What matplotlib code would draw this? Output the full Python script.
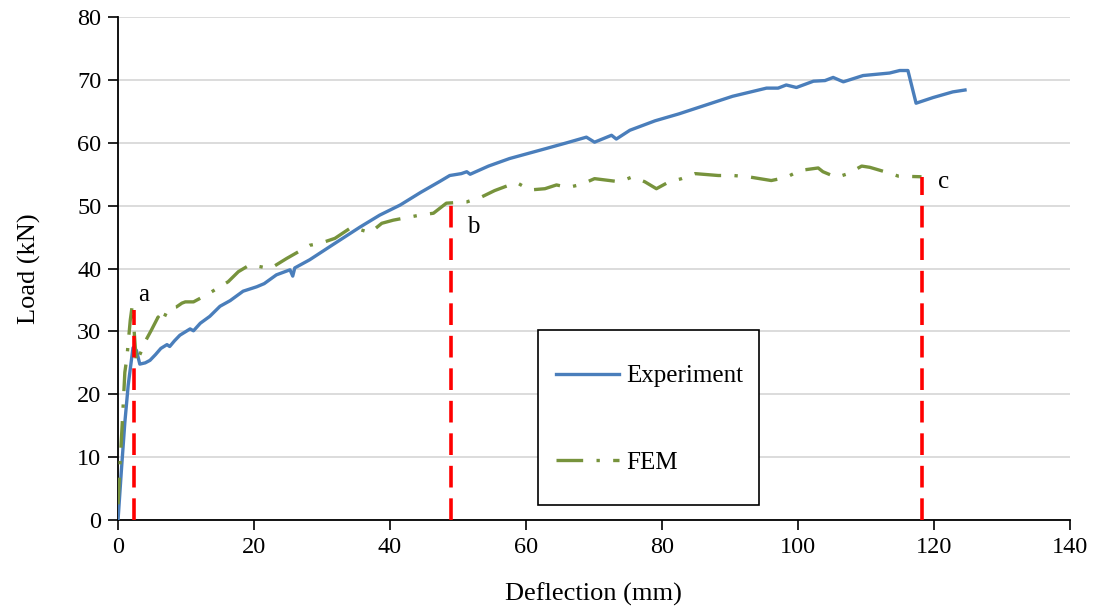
import matplotlib
matplotlib.use("Agg")
import matplotlib.pyplot as plt
from matplotlib.patches import Rectangle

plt.rcParams["font.family"] = ["Liberation Serif", "DejaVu Serif"]

# measured load-deflection response
exp_defl = [0, 0.5, 1.0, 1.5, 2.2, 2.7, 3.2, 4.0, 4.7, 5.5, 6.3, 7.2, 7.6, 8.3, 9.1,
            10.0, 10.6, 11.1, 12.1, 13.5, 15.0, 16.5, 18.4, 20.4, 21.5, 23.3, 25.3,
            25.7, 26.0, 28.2, 31.6, 35.6, 38.5, 41.5, 44.5, 47.4, 48.8, 50.5, 51.3,
            51.8, 54.5, 57.6, 60.3, 63.0, 66.0, 68.9, 69.5, 70.1, 72.6, 73.3, 75.3,
            79.0, 82.5, 85.6, 90.4, 95.4, 97.1, 98.3, 99.8, 102.3, 104.0, 105.2,
            106.7, 109.6, 113.5, 115.0, 116.2, 117.4, 119.9, 122.8, 124.6]
exp_load = [0, 8.0, 15.5, 21.5, 27.4, 27.0, 24.8, 25.0, 25.4, 26.3, 27.3, 27.9, 27.6,
            28.5, 29.4, 30.0, 30.4, 30.1, 31.3, 32.4, 34.0, 34.9, 36.4, 37.1, 37.6,
            39.0, 39.8, 38.8, 40.1, 41.4, 43.8, 46.6, 48.5, 50.1, 52.1, 53.9, 54.8,
            55.1, 55.4, 55.0, 56.3, 57.5, 58.3, 59.1, 60.0, 60.9, 60.5, 60.1, 61.2,
            60.6, 62.0, 63.5, 64.6, 65.7, 67.4, 68.7, 68.7, 69.2, 68.8, 69.8, 69.9,
            70.4, 69.7, 70.7, 71.1, 71.5, 71.5, 66.3, 67.2, 68.1, 68.4]

# finite element prediction
fem_defl = [0, 0.3, 0.7, 1.0, 1.3, 1.8, 2.1, 2.7, 3.4, 4.0, 4.9, 5.9, 6.4, 7.4, 8.6,
            9.4, 9.9, 11.1, 13.0, 16.2, 17.7, 19.4, 22.4, 24.8, 28.2, 29.7, 31.9,
            34.4, 37.1, 38.8, 40.5, 44.4, 46.4, 48.3, 51.3, 53.5, 55.4, 58.6, 60.6,
            62.8, 64.5, 66.2, 68.2, 70.1, 73.8, 75.7, 77.5, 79.2, 80.9, 82.9, 84.9,
            88.3, 90.5, 92.7, 96.1, 98.3, 100.3, 103.0, 103.7, 105.7, 107.4, 109.4,
            110.6, 112.8, 114.8, 118.2]
fem_load = [2.5, 9.0, 17.0, 23.5, 25.8, 31.8, 34.2, 25.0, 26.8, 28.4, 30.2, 32.3,
            31.3, 33.7, 33.9, 34.5, 34.7, 34.7, 35.8, 37.9, 39.5, 40.6, 40.0, 41.6,
            43.7, 44.0, 44.8, 46.6, 45.7, 47.2, 47.7, 48.5, 48.8, 50.4, 50.6, 51.4,
            52.4, 53.7, 52.5, 52.7, 53.3, 52.9, 53.4, 54.3, 53.8, 54.6, 53.8, 52.7,
            53.7, 54.3, 55.1, 54.8, 54.8, 54.6, 54.0, 54.5, 55.6, 56.0, 55.4, 54.5,
            55.1, 56.3, 56.1, 55.4, 54.7, 54.6]

# characteristic stages marked on the FEM curve
stage_labels = ["a", "b", "c"]
stage_defl = [2.3, 49.0, 118.2]
stage_load = [33.4, 50.4, 54.6]
label_offsets = [(7, 11), (16, -17), (16, -4)]  # points, label relative to line top

fig, ax = plt.subplots(figsize=(10.96, 6.1), dpi=100)
fig.subplots_adjust(left=0.1077, right=0.976, bottom=0.1475, top=0.972)

ax.plot(exp_defl, exp_load, color="#4a7ebb", lw=2.4, label="Experiment", zorder=3)
ax.plot(fem_defl, fem_load, color="#77933c", lw=2.4, dashes=(8, 4, 1, 4),
        label="FEM", zorder=3)

for lab, xd, yl, off in zip(stage_labels, stage_defl, stage_load, label_offsets):
    ax.vlines(xd, 0, yl, colors="#ff0000", lw=2.6, linestyles=(0, (6, 3)), zorder=4)
    ax.annotate(lab, (xd, yl), xytext=off, textcoords="offset points",
                fontsize=18, ha="center", va="center")

ax.set_xlim(0, 140)
ax.set_ylim(0, 80)
ax.set_xticks(range(0, 141, 20))
ax.set_yticks(range(0, 81, 10))
ax.tick_params(direction="out", length=7, width=1.2, labelsize=17.5, pad=5)
ax.grid(axis="y", color="#d9d9d9", lw=1.3)
ax.set_axisbelow(True)
for side in ["top", "right"]:
    ax.spines[side].set_visible(False)
for side in ["left", "bottom"]:
    ax.spines[side].set_linewidth(1.3)

ax.set_xlabel("Deflection (mm)", fontsize=19, labelpad=18)
ax.set_ylabel("Load (kN)", fontsize=19, labelpad=26)

# legend frame drawn separately so the padding can differ on each side
ax.add_patch(Rectangle((0.4412, 0.0298), 0.2321, 0.3479, transform=ax.transAxes,
                       facecolor="white", edgecolor="black", lw=1.2, zorder=5))
leg = ax.legend(loc="center", bbox_to_anchor=(0.5583, 0.1998), fontsize=18,
                frameon=False, borderpad=0, labelspacing=2.57, handlelength=2.52,
                handletextpad=0.28, borderaxespad=0)
leg.set_zorder(6)

fig.savefig("out.png", dpi=100)
